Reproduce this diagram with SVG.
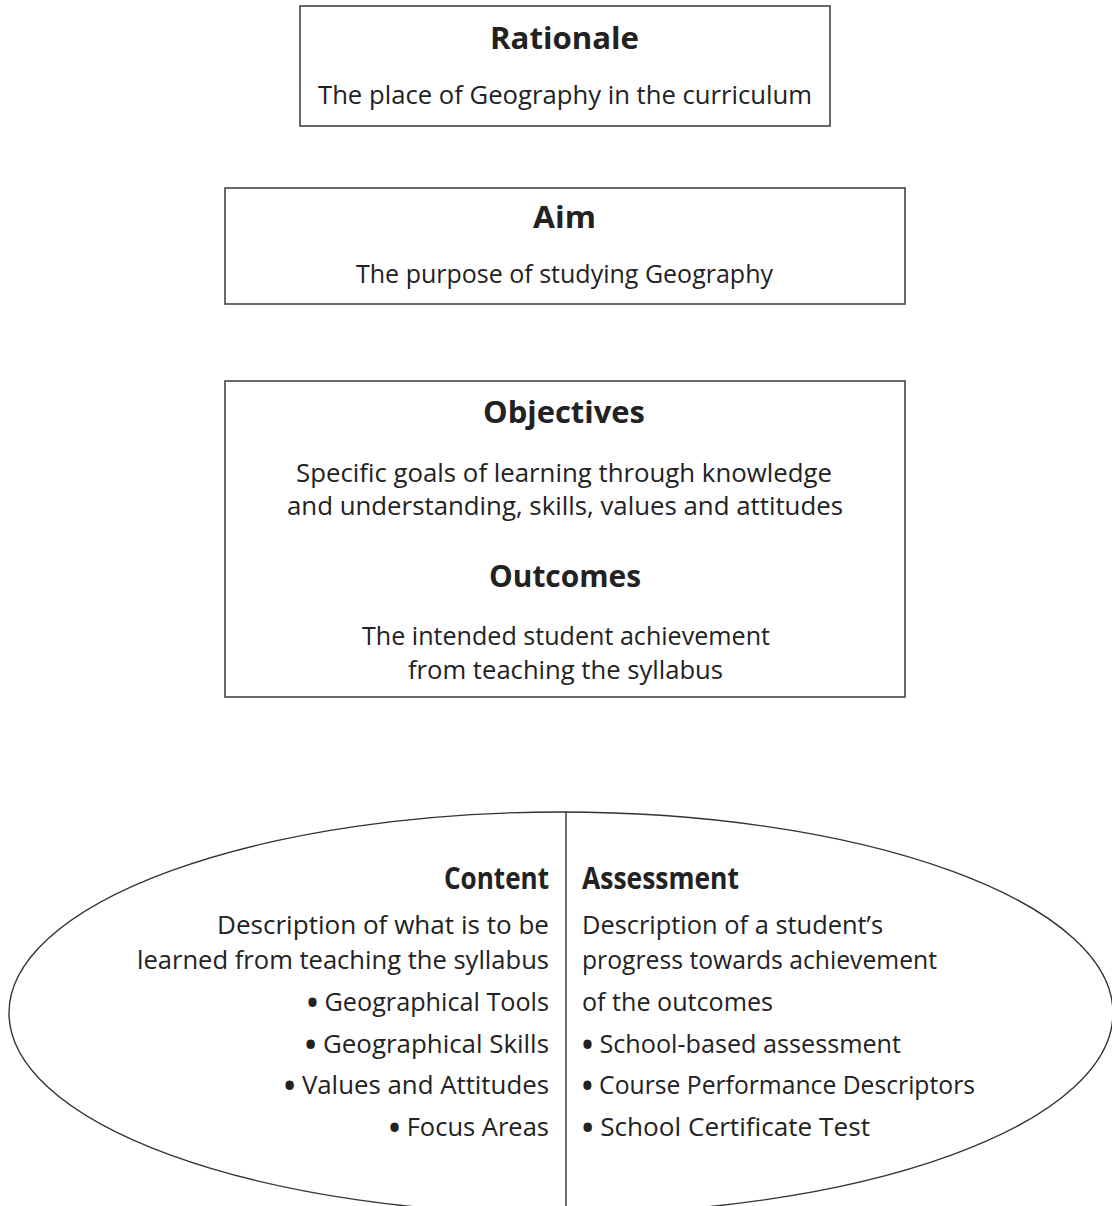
<svg xmlns="http://www.w3.org/2000/svg" width="1112" height="1206" viewBox="0 0 1112 1206">
  <style>
    .box { fill: #ffffff; stroke: #444444; stroke-width: 1.6; }
    .t { font-family: "Open Sans", Lato, sans-serif; font-weight: 700; font-size: 30px; fill: #222222; }
    .b { font-family: "Open Sans", Lato, sans-serif; font-weight: 400; font-size: 26px; fill: #222222; }
    .bul { font-size: 30px; font-weight: 700; baseline-shift: -2px; }
    .edge { fill: none; stroke: #333333; stroke-width: 1.4; }
  </style>
  <rect width="1112" height="1206" fill="#ffffff"/>

  <g id="rationale">
    <rect class="box" x="300" y="6" width="530" height="120"/>
    <text class="t" x="490" y="49" textLength="149" lengthAdjust="spacingAndGlyphs">Rationale</text>
    <text class="b" x="318" y="104" textLength="494" lengthAdjust="spacingAndGlyphs">The place of Geography in the curriculum</text>
  </g>

  <g id="aim">
    <rect class="box" x="225" y="188" width="680" height="116"/>
    <text class="t" x="533" y="228" textLength="63" lengthAdjust="spacingAndGlyphs">Aim</text>
    <text class="b" x="356" y="283" textLength="417" lengthAdjust="spacingAndGlyphs">The purpose of studying Geography</text>
  </g>

  <g id="objectives-outcomes">
    <rect class="box" x="225" y="381" width="680" height="316"/>
    <text class="t" x="483" y="423" textLength="162" lengthAdjust="spacingAndGlyphs">Objectives</text>
    <text class="b" x="296" y="482" textLength="536" lengthAdjust="spacingAndGlyphs">Specific goals of learning through knowledge</text>
    <text class="b" x="287" y="515" textLength="556" lengthAdjust="spacingAndGlyphs">and understanding, skills, values and attitudes</text>
    <text class="t" x="489" y="587" textLength="152" lengthAdjust="spacingAndGlyphs">Outcomes</text>
    <text class="b" x="362" y="645" textLength="408" lengthAdjust="spacingAndGlyphs">The intended student achievement</text>
    <text class="b" x="408" y="679" textLength="315" lengthAdjust="spacingAndGlyphs">from teaching the syllabus</text>
  </g>

  <g id="connectors">
    <ellipse class="edge" cx="561" cy="1013" rx="552" ry="201"/>
    <line class="edge" x1="566" y1="812" x2="566" y2="1206"/>
  </g>

  <g id="content">
    <text class="t" x="444" y="889" textLength="105" lengthAdjust="spacingAndGlyphs">Content</text>
    <text class="b" x="217" y="934" textLength="332" lengthAdjust="spacingAndGlyphs">Description of what is to be</text>
    <text class="b" x="137" y="969" textLength="412" lengthAdjust="spacingAndGlyphs">learned from teaching the syllabus</text>
    <text class="b" x="307" y="1011" textLength="242" lengthAdjust="spacingAndGlyphs"><tspan class="bul">•</tspan> Geographical Tools</text>
    <text class="b" x="305" y="1053" textLength="244" lengthAdjust="spacingAndGlyphs"><tspan class="bul">•</tspan> Geographical Skills</text>
    <text class="b" x="284" y="1094" textLength="265" lengthAdjust="spacingAndGlyphs"><tspan class="bul">•</tspan> Values and Attitudes</text>
    <text class="b" x="389" y="1136" textLength="160" lengthAdjust="spacingAndGlyphs"><tspan class="bul">•</tspan> Focus Areas</text>
  </g>

  <g id="assessment">
    <text class="t" x="582" y="889" textLength="157" lengthAdjust="spacingAndGlyphs">Assessment</text>
    <text class="b" x="582" y="934" textLength="301" lengthAdjust="spacingAndGlyphs">Description of a student’s</text>
    <text class="b" x="582" y="969" textLength="355" lengthAdjust="spacingAndGlyphs">progress towards achievement</text>
    <text class="b" x="582" y="1011" textLength="191" lengthAdjust="spacingAndGlyphs">of the outcomes</text>
    <text class="b" x="582" y="1053" textLength="319" lengthAdjust="spacingAndGlyphs"><tspan class="bul">•</tspan> School-based assessment</text>
    <text class="b" x="582" y="1094" textLength="393" lengthAdjust="spacingAndGlyphs"><tspan class="bul">•</tspan> Course Performance Descriptors</text>
    <text class="b" x="582" y="1136" textLength="288" lengthAdjust="spacingAndGlyphs"><tspan class="bul">•</tspan> School Certificate Test</text>
  </g>
</svg>
